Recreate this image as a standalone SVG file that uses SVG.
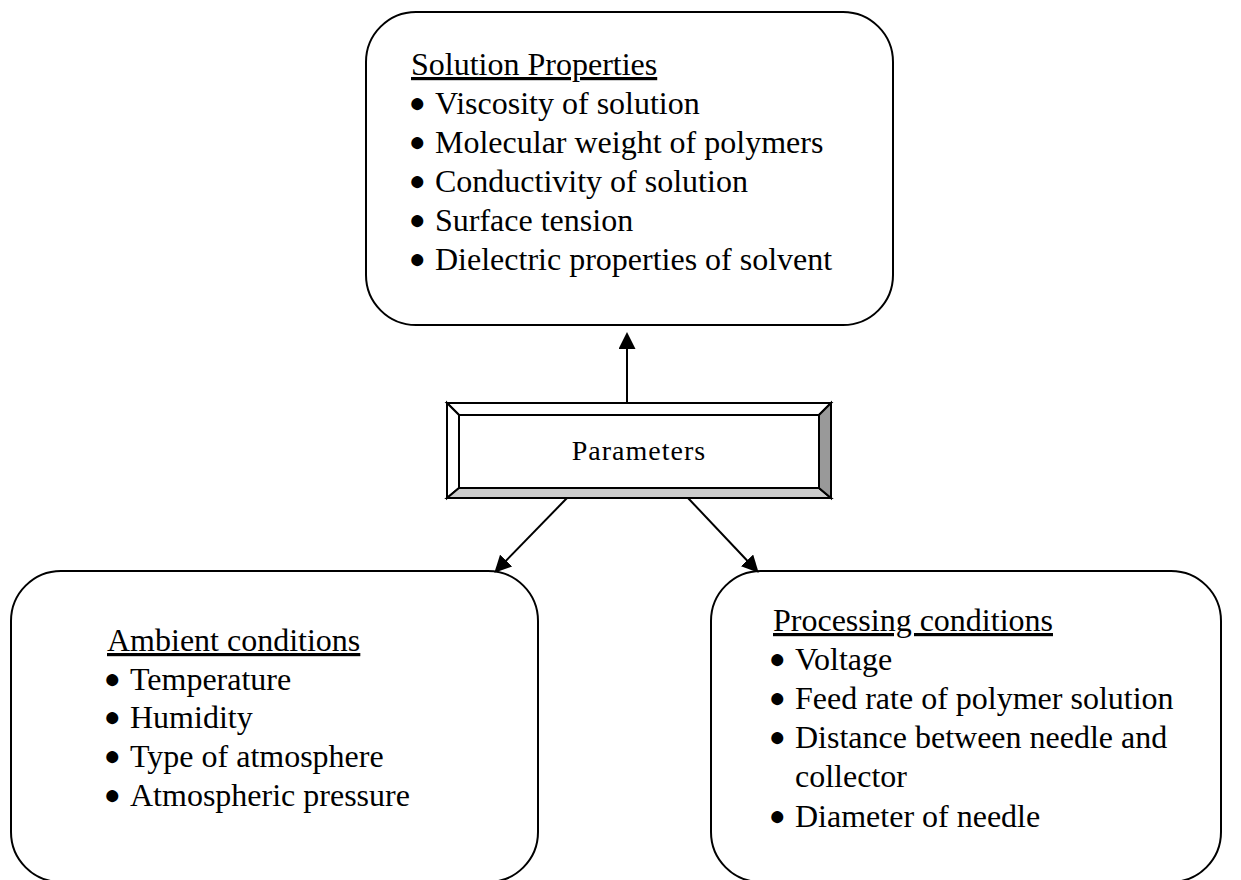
<svg xmlns="http://www.w3.org/2000/svg" width="1241" height="880" viewBox="0 0 1241 880">
<style>
.box{fill:#fff;stroke:#000;stroke-width:2}
.t{font-family:"Liberation Serif","Times New Roman",serif;font-size:32px;fill:#000}
.b{font-size:28px}
.h{text-decoration:underline}
.conn{stroke:#000;stroke-width:2;fill:none}
.bev{stroke:#000;stroke-width:2;stroke-linejoin:miter}
</style>
<defs>
<marker id="ah" markerUnits="userSpaceOnUse" markerWidth="17" markerHeight="17" viewBox="0 0 17 17" refX="8" refY="8.5" orient="auto">
<path d="M0,0 L17,8.5 L0,17 z" fill="#000"/>
</marker>
</defs>
<rect width="1241" height="880" fill="#fff"/>
<g id="solution">
<rect class="box" x="366" y="12" width="527" height="313" rx="50" ry="50"/>
<text class="t h" x="411" y="75">Solution Properties</text>
<text class="t"><tspan class="b" x="409" y="112">●</tspan><tspan x="435" y="114">Viscosity of solution</tspan></text>
<text class="t"><tspan class="b" x="409" y="151">●</tspan><tspan x="435" y="153">Molecular weight of polymers</tspan></text>
<text class="t"><tspan class="b" x="409" y="190">●</tspan><tspan x="435" y="192">Conductivity of solution</tspan></text>
<text class="t"><tspan class="b" x="409" y="229">●</tspan><tspan x="435" y="231">Surface tension</tspan></text>
<text class="t"><tspan class="b" x="409" y="268">●</tspan><tspan x="435" y="270">Dielectric properties of solvent</tspan></text>
</g>
<g id="parameters">
<polygon class="bev" points="447,403 831,403 819,415 459,415" fill="#fff"/>
<polygon class="bev" points="447,403 459,415 459,488 447,498" fill="#fff"/>
<polygon class="bev" points="447,498 459,488 819,488 831,498" fill="#cccccc"/>
<polygon class="bev" points="831,403 831,498 819,488 819,415" fill="#999999"/>
<rect x="459" y="415" width="360" height="73" fill="#fff" stroke="#000" stroke-width="2"/>
<text class="t" x="639" y="460" text-anchor="middle" style="font-size:28px;letter-spacing:1px">Parameters</text>
</g>
<g id="ambient">
<rect class="box" x="11" y="571" width="527" height="311" rx="50" ry="50"/>
<text class="t h" x="107" y="651">Ambient conditions</text>
<text class="t"><tspan class="b" x="104" y="688">●</tspan><tspan x="130" y="690">Temperature</tspan></text>
<text class="t"><tspan class="b" x="104" y="726">●</tspan><tspan x="130" y="728">Humidity</tspan></text>
<text class="t"><tspan class="b" x="104" y="765">●</tspan><tspan x="130" y="767">Type of atmosphere</tspan></text>
<text class="t"><tspan class="b" x="104" y="804">●</tspan><tspan x="130" y="806">Atmospheric pressure</tspan></text>
</g>
<g id="processing">
<rect class="box" x="711" y="571" width="510" height="311" rx="50" ry="50"/>
<text class="t h" x="773" y="631">Processing conditions</text>
<text class="t"><tspan class="b" x="769" y="668">●</tspan><tspan x="795" y="670">Voltage</tspan></text>
<text class="t"><tspan class="b" x="769" y="707">●</tspan><tspan x="795" y="709">Feed rate of polymer solution</tspan></text>
<text class="t"><tspan class="b" x="769" y="746">●</tspan><tspan x="795" y="748">Distance between needle and</tspan></text>
<text class="t" x="795" y="787">collector</text>
<text class="t"><tspan class="b" x="769" y="825">●</tspan><tspan x="795" y="827">Diameter of needle</tspan></text>
</g>
<g id="connectors">
<line class="conn" x1="627" y1="403" x2="627" y2="341" marker-end="url(#ah)"/>
<line class="conn" x1="567" y1="498" x2="500.6" y2="566.3" marker-end="url(#ah)"/>
<line class="conn" x1="688" y1="498" x2="752.5" y2="566.2" marker-end="url(#ah)"/>
</g>
</svg>
